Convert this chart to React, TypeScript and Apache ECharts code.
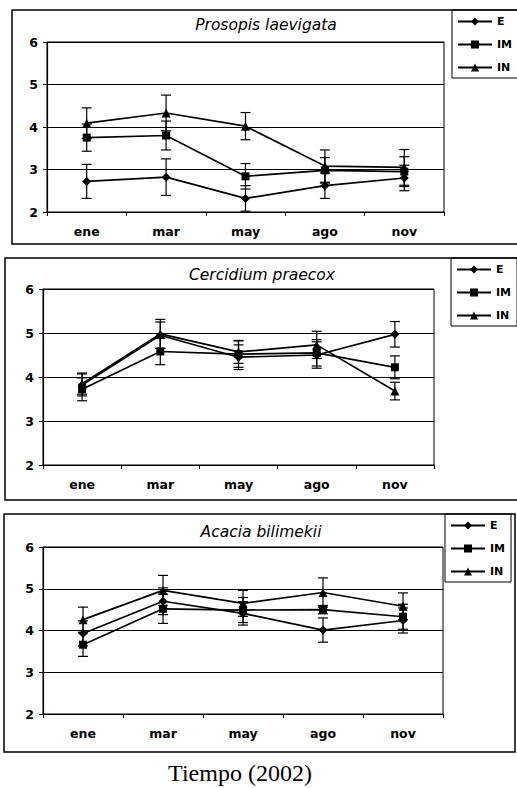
import React, { useEffect, useRef } from "react";
import * as echarts from "echarts";

const months = ["ene", "mar", "may", "ago", "nov"];
const seriesNames = ["E", "IM", "IN"];
const yTicks = [2, 3, 4, 5, 6];
const panelTitles = ["Prosopis laevigata", "Cercidium praecox", "Acacia bilimekii"];
const xAxisTitle = "Tiempo (2002)";

// Prosopis laevigata
const prosopisE = [2.72, 2.82, 2.32, 2.62, 2.8];
const prosopisEErr = [0.4, 0.43, 0.3, 0.3, 0.3];
const prosopisIM = [3.75, 3.8, 2.84, 2.98, 2.95];
const prosopisIMErr = [0.32, 0.34, 0.3, 0.3, 0.35];
const prosopisIN = [4.09, 4.33, 4.02, 3.08, 3.05];
const prosopisINErr = [0.36, 0.42, 0.32, 0.38, 0.42];

// Cercidium praecox
const cercidiumE = [3.82, 4.95, 4.45, 4.5, 4.97];
const cercidiumEErr = [0.25, 0.3, 0.28, 0.3, 0.29];
const cercidiumIM = [3.72, 4.58, 4.52, 4.55, 4.22];
const cercidiumIMErr = [0.26, 0.3, 0.3, 0.3, 0.26];
const cercidiumIN = [3.85, 4.98, 4.57, 4.73, 3.68];
const cercidiumINErr = [0.24, 0.33, 0.26, 0.31, 0.2];

// Acacia bilimekii
const acaciaE = [3.93, 4.7, 4.41, 4.01, 4.24];
const acaciaEErr = [0.3, 0.32, 0.28, 0.29, 0.3];
const acaciaIM = [3.66, 4.52, 4.49, 4.5, 4.33];
const acaciaIMErr = [0.28, 0.35, 0.3, 0.1, 0.3];
const acaciaIN = [4.26, 4.96, 4.65, 4.91, 4.58];
const acaciaINErr = [0.3, 0.36, 0.31, 0.35, 0.32];

const panelValues = [
  [prosopisE, prosopisIM, prosopisIN],
  [cercidiumE, cercidiumIM, cercidiumIN],
  [acaciaE, acaciaIM, acaciaIN],
];
const panelErrors = [
  [prosopisEErr, prosopisIMErr, prosopisINErr],
  [cercidiumEErr, cercidiumIMErr, cercidiumINErr],
  [acaciaEErr, acaciaIMErr, acaciaINErr],
];

const symbols = ["diamond", "rect", "triangle"];
const symbolSizes = [9, 8, 9];

// layout
const grids = [
  { left: 47, top: 42, width: 397, height: 170 },
  { left: 43, top: 289, width: 391, height: 176 },
  { left: 43, top: 547, width: 400, height: 167 },
];
const panelBoxes = [
  { x: 12, y: 10, w: 540, h: 234 },
  { x: 5, y: 258, w: 540, h: 242 },
  { x: 4, y: 514, w: 511, h: 238 },
];
const legendPos = [
  { left: 452, top: 10 },
  { left: 451, top: 258 },
  { left: 445, top: 514 },
];
const titlePos = [
  { x: 266, y: 25 },
  { x: 262, y: 275 },
  { x: 261, y: 532 },
];

const FONT = "DejaVu Sans";

export default function App() {
  const ref = useRef<HTMLDivElement>(null);

  useEffect(() => {
    if (!ref.current) return;
    const chart = echarts.init(ref.current, undefined, { renderer: "svg" });

    const series: any[] = [];
    panelValues.forEach((vals, p) => {
      vals.forEach((v, s) => {
        const errs = panelErrors[p][s];
        series.push({
          type: "custom",
          name: seriesNames[s] + "-err",
          xAxisIndex: p,
          yAxisIndex: p,
          z: 2,
          silent: true,
          encode: { x: 0, y: [1, 2] },
          data: v.map((val, i) => [i, val - errs[i], val + errs[i]]),
          renderItem: (params: any, api: any) => {
            const i = api.value(0);
            const lo = api.coord([i, api.value(1)]);
            const hi = api.coord([i, api.value(2)]);
            const w = 5;
            const style = { stroke: "#000", lineWidth: 1.2 };
            return {
              type: "group",
              children: [
                { type: "line", shape: { x1: hi[0], y1: hi[1], x2: lo[0], y2: lo[1] }, style },
                { type: "line", shape: { x1: hi[0] - w, y1: hi[1], x2: hi[0] + w, y2: hi[1] }, style },
                { type: "line", shape: { x1: lo[0] - w, y1: lo[1], x2: lo[0] + w, y2: lo[1] }, style },
              ],
            };
          },
        });
        series.push({
          type: "line",
          name: seriesNames[s],
          xAxisIndex: p,
          yAxisIndex: p,
          z: 3,
          data: v,
          symbol: symbols[s],
          symbolSize: symbolSizes[s],
          showAllSymbol: true,
          itemStyle: { color: "#000" },
          lineStyle: { color: "#000", width: 1.7 },
        });
      });
    });

    const graphic: any[] = [];
    panelBoxes.forEach((b) => {
      graphic.push({
        type: "rect",
        z: -10,
        shape: { x: b.x, y: b.y, width: b.w, height: b.h },
        style: { fill: "none", stroke: "#000", lineWidth: 1.5 },
      });
    });
    panelTitles.forEach((t, p) => {
      graphic.push({
        type: "text",
        x: titlePos[p].x,
        y: titlePos[p].y,
        style: {
          text: t,
          fill: "#000",
          font: `italic 15.5px "${FONT}"`,
          textAlign: "center",
          textVerticalAlign: "middle",
        },
      });
    });
    graphic.push({
      type: "text",
      x: 240,
      y: 773,
      style: {
        text: xAxisTitle,
        fill: "#000",
        font: `24px "Liberation Serif"`,
        textAlign: "center",
        textVerticalAlign: "middle",
      },
    });

    chart.setOption({
      animation: false,
      backgroundColor: "#fff",
      grid: grids.map((g) => ({
        ...g,
        show: true,
        borderColor: "#000",
        borderWidth: 1,
        backgroundColor: "transparent",
        containLabel: false,
      })),
      xAxis: grids.map((_, p) => ({
        type: "category",
        gridIndex: p,
        data: months,
        boundaryGap: true,
        axisLine: { show: true, lineStyle: { color: "#000", width: 1.2 } },
        axisTick: { show: true, alignWithLabel: false, length: 4, lineStyle: { color: "#000" } },
        axisLabel: {
          margin: 13,
          color: "#000",
          fontFamily: FONT,
          fontWeight: "bold",
          fontSize: 12.5,
        },
        splitLine: { show: false },
      })),
      yAxis: grids.map((_, p) => ({
        type: "value",
        gridIndex: p,
        min: yTicks[0],
        max: yTicks[yTicks.length - 1],
        interval: 1,
        axisLine: { show: true, lineStyle: { color: "#000", width: 1.2 } },
        axisTick: { show: true, length: 4, lineStyle: { color: "#000" } },
        axisLabel: {
          margin: 9,
          color: "#000",
          fontFamily: FONT,
          fontWeight: "bold",
          fontSize: 12.5,
        },
        splitLine: { show: true, lineStyle: { color: "#000", width: 1.2 } },
      })),
      legend: legendPos.map((l) => ({
        left: l.left,
        top: l.top,
        orient: "vertical",
        data: seriesNames,
        selectedMode: false,
        borderColor: "#000",
        borderWidth: 1,
        padding: [6, 6, 5, 5],
        itemGap: 12,
        itemWidth: 34,
        itemHeight: 10,
        textStyle: { color: "#000", fontFamily: FONT, fontWeight: "bold", fontSize: 11 },
      })),
      graphic,
      series,
    });

    return () => {
      chart.dispose();
    };
  }, []);

  return (
    <div
      ref={ref}
      style={{ position: "absolute", left: 0, top: 0, width: 517, height: 788, background: "#fff" }}
    />
  );
}
